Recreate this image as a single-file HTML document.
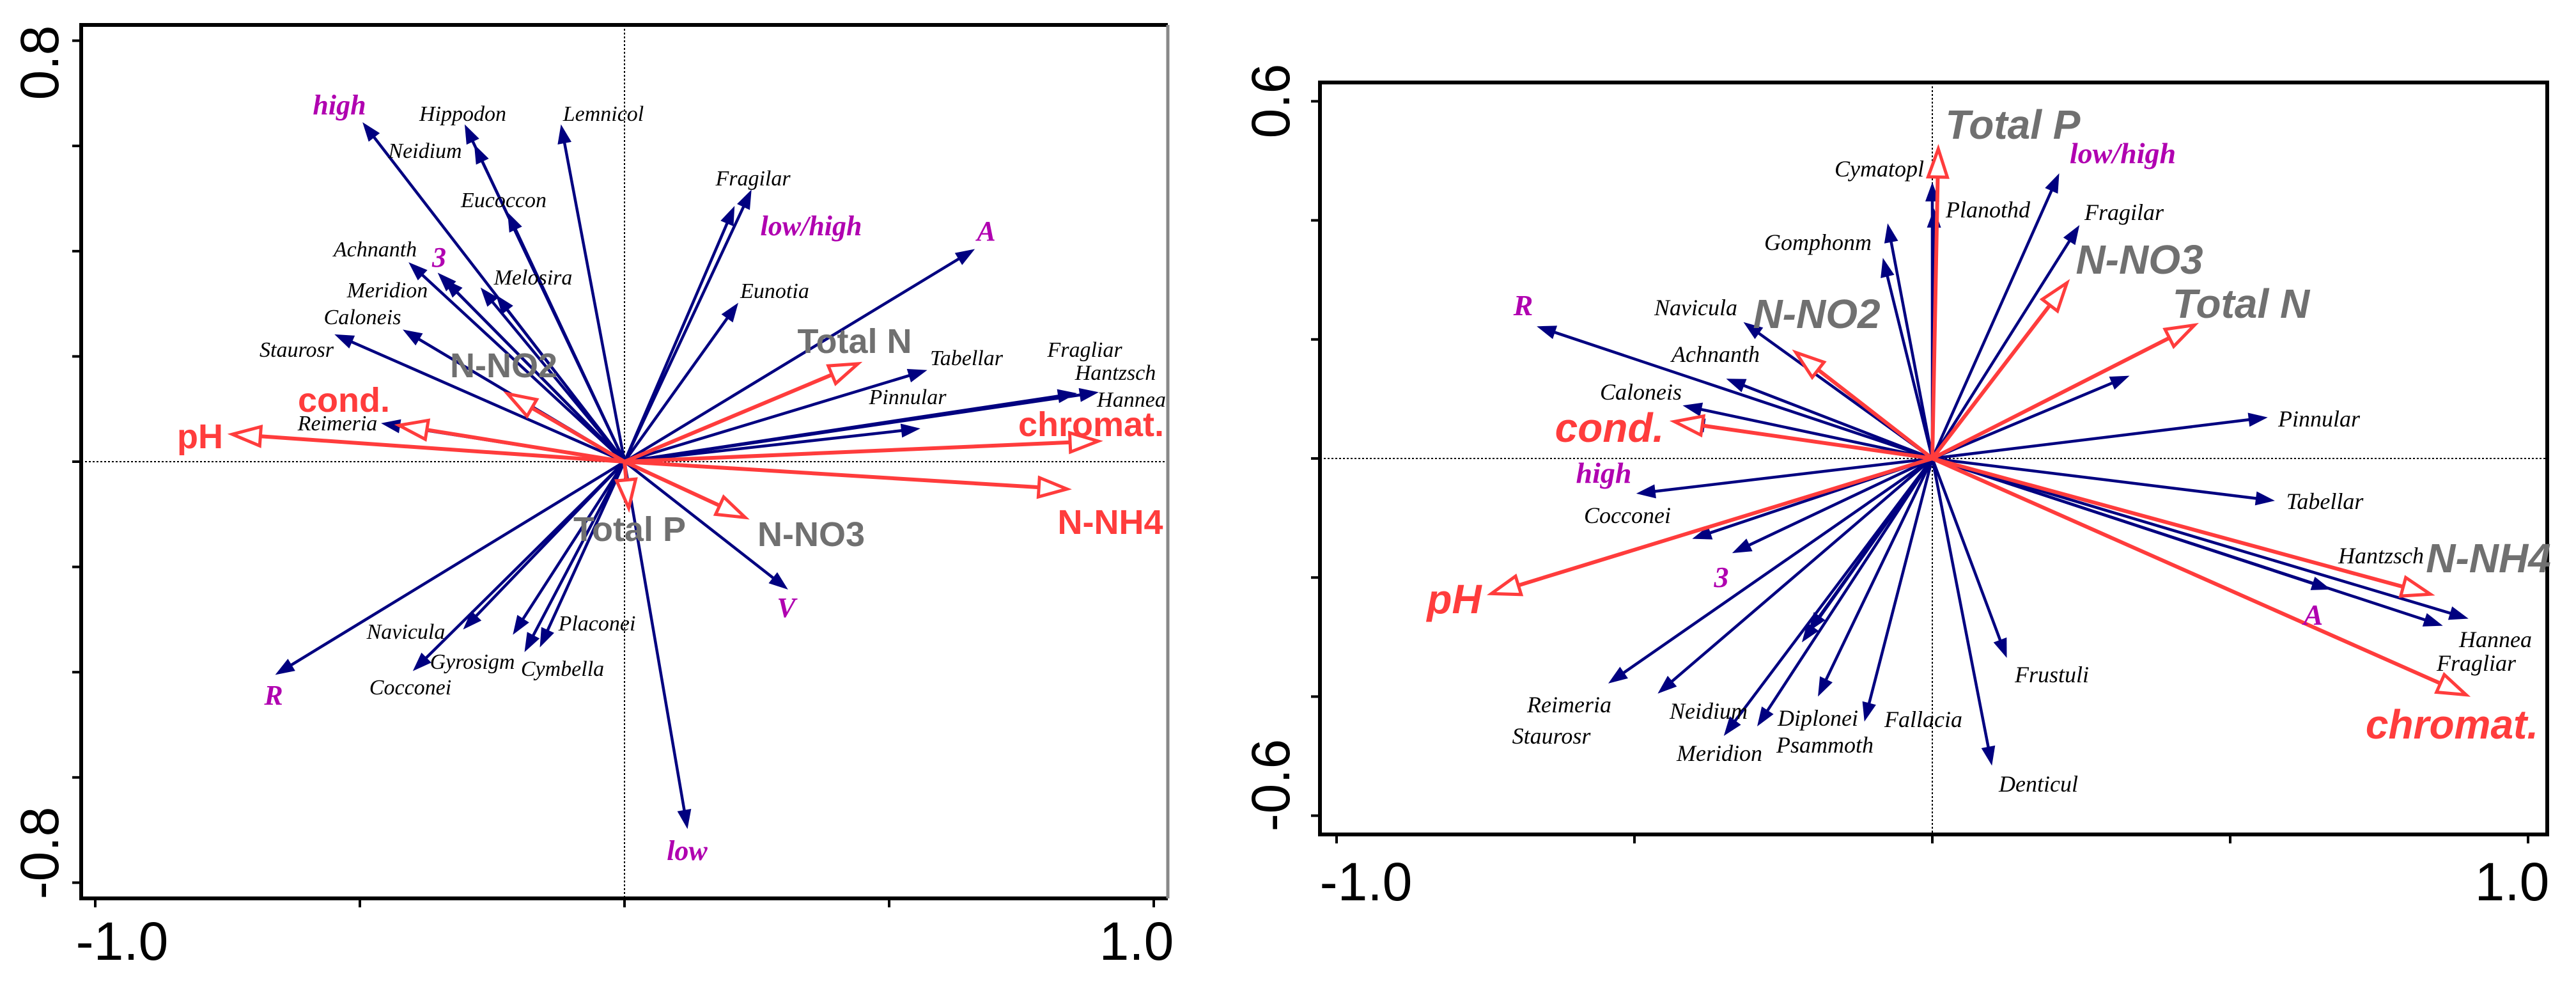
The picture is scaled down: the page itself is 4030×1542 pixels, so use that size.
<!DOCTYPE html>
<html><head><meta charset="utf-8"><style>
html,body{margin:0;padding:0;background:#fff}
svg{display:block}
.sp{font-family:"Liberation Serif",serif;font-style:italic;fill:#000}
.mg{font-family:"Liberation Serif",serif;font-style:italic;font-weight:bold;fill:#b000b0}
.gr{font-family:"Liberation Sans",sans-serif;font-weight:bold;fill:#707070}
.rd{font-family:"Liberation Sans",sans-serif;font-weight:bold;fill:#ff3c3c}
.tk{font-family:"Liberation Sans",sans-serif;fill:#000;font-size:84px}
</style></head><body>
<svg id="chart" width="4030" height="1542" viewBox="0 0 4030 1542" xmlns="http://www.w3.org/2000/svg" text-anchor="middle">
<rect width="4030" height="1542" fill="#fff"/>
<g id="left-panel">
  <line x1="977" y1="39" x2="977" y2="1405" stroke="#000" stroke-width="2" stroke-dasharray="3,3"/>
  <line x1="127" y1="722" x2="1827" y2="722" stroke="#000" stroke-width="2" stroke-dasharray="3,3"/>
  <g id="left-arrows"></g>
  <path d="M1827,39 H127 V1405 H1827" fill="none" stroke="#000" stroke-width="6"/>
  <line x1="1827" y1="39" x2="1827" y2="1405" stroke="#888" stroke-width="5"/>
  <g id="left-ticks"></g>
  <text class="tk" transform="translate(61,98) rotate(-90)" dy="30">0.8</text>
  <text class="tk" transform="translate(61,1334) rotate(-90)" dy="30">-0.8</text>
  <text class="tk" x="191" y="1501">-1.0</text>
  <text class="tk" x="1778" y="1501">1.0</text>
  <g font-size="34" class="sp">
    <text x="724" y="189">Hippodon</text><text x="944" y="189">Lemnicol</text><text x="665" y="247">Neidium</text>
    <text x="788" y="324">Eucoccon</text><text x="1178" y="290">Fragilar</text><text x="587" y="401">Achnanth</text>
    <text x="834" y="445">Melosira</text><text x="606" y="465">Meridion</text><text x="1212" y="466">Eunotia</text>
    <text x="567" y="507">Caloneis</text><text x="464" y="558">Staurosr</text><text x="1512" y="571">Tabellar</text>
    <text x="1697" y="558">Fragliar</text><text x="1745" y="594">Hantzsch</text><text x="1770" y="636">Hannea</text>
    <text x="1420" y="632">Pinnular</text><text x="528" y="673">Reimeria</text><text x="635" y="999">Navicula</text>
    <text x="934" y="986">Placonei</text><text x="739" y="1046">Gyrosigm</text><text x="880" y="1057">Cymbella</text>
    <text x="642" y="1086">Cocconei</text>
  </g>
  <g font-size="44" class="mg">
    <text x="531" y="179">high</text><text x="687" y="417">3</text><text x="1269" y="368">low/high</text>
    <text x="1543" y="376">A</text><text x="1230" y="965">V</text><text x="1075" y="1345">low</text><text x="428" y="1102">R</text>
  </g>
  <g font-size="54" class="gr">
    <text x="1337" y="552">Total N</text><text x="788" y="590">N-NO2</text><text x="985" y="846">Total P</text><text x="1269" y="854">N-NO3</text>
  </g>
  <g font-size="54" class="rd">
    <text x="538" y="644">cond.</text><text x="313" y="701">pH</text><text x="1707" y="682">chromat.</text><text x="1737" y="835">N-NH4</text>
  </g>
</g>
<g id="right-panel">
  <line x1="3023" y1="129" x2="3023" y2="1305" stroke="#000" stroke-width="2" stroke-dasharray="3,3"/>
  <line x1="2065" y1="717" x2="3985" y2="717" stroke="#000" stroke-width="2" stroke-dasharray="3,3"/>
  <g id="right-arrows"></g>
  <rect x="2065" y="129" width="1920" height="1176" fill="none" stroke="#000" stroke-width="6"/>
  <g id="right-ticks"></g>
  <text class="tk" transform="translate(1987,158) rotate(-90)" dy="30">0.6</text>
  <text class="tk" transform="translate(1987,1228) rotate(-90)" dy="30">-0.6</text>
  <text class="tk" x="2137" y="1408">-1.0</text>
  <text class="tk" x="3930" y="1408">1.0</text>
  <g font-size="36" class="sp">
    <text x="2940" y="276">Cymatopl</text><text x="3110" y="340">Planothd</text><text x="3323" y="344">Fragilar</text>
    <text x="2844" y="391">Gomphonm</text><text x="2653" y="493">Navicula</text><text x="2684" y="566">Achnanth</text>
    <text x="2567" y="625">Caloneis</text><text x="3628" y="667">Pinnular</text><text x="3637" y="796">Tabellar</text>
    <text x="2546" y="818">Cocconei</text><text x="3725" y="881">Hantzsch</text><text x="3904" y="1012">Hannea</text>
    <text x="3874" y="1049">Fragliar</text><text x="3210" y="1067">Frustuli</text><text x="2455" y="1114">Reimeria</text>
    <text x="2673" y="1124">Neidium</text><text x="2844" y="1135">Diplonei</text><text x="3009" y="1137">Fallacia</text>
    <text x="2427" y="1163">Staurosr</text><text x="2855" y="1177">Psammoth</text><text x="2690" y="1190">Meridion</text>
    <text x="3189" y="1238">Denticul</text>
  </g>
  <g font-size="46" class="mg">
    <text x="3321" y="255">low/high</text><text x="2383" y="493">R</text><text x="2509" y="755">high</text>
    <text x="2693" y="918">3</text><text x="3619" y="977">A</text>
  </g>
  <g font-size="64" class="gr" font-style="italic">
    <text x="3149" y="217">Total P</text><text x="3347" y="428">N-NO3</text><text x="3506" y="497">Total N</text>
    <text x="2842" y="513">N-NO2</text><text x="3893" y="895">N-NH4</text>
  </g>
  <g font-size="64" class="rd" font-style="italic">
    <text x="2518" y="691">cond.</text><text x="2275" y="959">pH</text><text x="3836" y="1155">chromat.</text>
  </g>
</g>
</svg>
<script>
// Left panel data (axis units)
const leftBlueNames = ["high","Hippodon","Neidium","Lemnicol","Eucoccon","Achnanth","3","Meridion","Melosira","Melosira2","Caloneis","Staurosr","Reimeria","Fragilar","low/high","Eunotia","A","Tabellar","Fragliar","Hantzsch","Pinnular","V","low","R","Navicula","Cocconei","Gyrosigm","Cymbella","Placonei"];
const leftBlueX = [-0.495,-0.302,-0.284,-0.120,-0.221,-0.408,-0.353,-0.341,-0.272,-0.243,-0.419,-0.548,-0.460,0.240,0.208,0.215,0.662,0.572,0.855,0.896,0.559,0.309,0.119,-0.660,-0.305,-0.400,-0.211,-0.189,-0.160];
const leftBlueY = [0.645,0.641,0.603,0.641,0.474,0.379,0.359,0.347,0.331,0.317,0.251,0.242,0.073,0.517,0.486,0.302,0.404,0.174,0.130,0.132,0.063,-0.243,-0.698,-0.405,-0.319,-0.398,-0.329,-0.362,-0.353];
const leftRedNames = ["pH","cond.","N-NO2","Total N","chromat.","N-NH4","N-NO3","Total P"];
const leftRedX = [-0.741,-0.426,-0.221,0.441,0.895,0.836,0.228,0.008];
const leftRedY = [0.052,0.069,0.129,0.186,0.039,-0.052,-0.106,-0.088];
const leftXTicks = [-1.0,-0.5,0,0.5,1.0];
const leftYTicks = [0.8,0.6,0.4,0.2,0,-0.2,-0.4,-0.6,-0.8];
// Right panel data
const rightBlueNames = ["Cymatopl","Planothd","Gomphonm","Gomphonm2","low/high","Fragilar","R","Navicula","Achnanth","Caloneis","Caloneis2","unnamed1","Pinnular","Cocconei","Tabellar","unnamed2","3","A","Hannea","Fragliar","Reimeria","Neidium","unnamed3","unnamed4","Meridion","Psammoth","Diplonei","Fallacia","Frustuli","Denticul"];
const rightBlueX = [0,0.003,-0.075,-0.083,0.213,0.247,-0.664,-0.317,-0.346,-0.419,-0.414,0.331,0.563,-0.497,0.575,-0.403,-0.336,0.669,0.900,0.857,-0.544,-0.461,-0.219,-0.208,-0.350,-0.294,-0.192,-0.114,0.125,0.100];
const rightBlueY = [0.464,0.420,0.395,0.337,0.479,0.392,0.222,0.229,0.134,0.089,0.060,0.139,0.069,-0.059,-0.071,-0.135,-0.159,-0.220,-0.269,-0.281,-0.378,-0.395,-0.309,-0.291,-0.466,-0.450,-0.400,-0.442,-0.335,-0.516];
const rightRedNames = ["Total P","N-NO3","Total N","N-NO2","cond.","pH","N-NH4","chromat."];
const rightRedX = [0.010,0.226,0.440,-0.229,-0.433,-0.740,0.836,0.896];
const rightRedY = [0.520,0.295,0.224,0.178,0.062,-0.227,-0.228,-0.397];
const rightXTicks = [-1.0,-0.5,0,0.5,1.0];
const rightYTicks = [0.6,0.4,0.2,0,-0.2,-0.4,-0.6];

const NS="http://www.w3.org/2000/svg";
function mk(tag){return document.createElementNS(NS,tag);}
function drawPanel(gid,tid,X,Y,bx,by,bn,rx,ry,rn,xt,yt,frameL,frameB,pfx){
  const g=document.getElementById(gid), cx=X(0), cy=Y(0);
  function arrow(vx,vy,name,red){
    const tx=X(vx),ty=Y(vy),dx=tx-cx,dy=ty-cy,len=Math.hypot(dx,dy)||1,ux=dx/len,uy=dy/len;
    const L=red?44:30,W=red?15:11;
    const bxp=tx-ux*L,byp=ty-uy*L;
    const ln=mk('line');
    
    
    ln.setAttribute('x1',cx);ln.setAttribute('y1',cy);
    ln.setAttribute('x2',red?bxp:bxp+ux*4);ln.setAttribute('y2',red?byp:byp+uy*4);
    ln.setAttribute('stroke',red?'#ff3c3c':'#000080');ln.setAttribute('stroke-width',red?6:4.5);
    g.appendChild(ln);
    const p=mk('polygon');
    
    
    p.setAttribute('points',tx+','+ty+' '+(bxp-uy*W)+','+(byp+ux*W)+' '+(bxp+uy*W)+','+(byp-ux*W));
    if(red){p.setAttribute('fill','#fff');p.setAttribute('stroke','#ff3c3c');p.setAttribute('stroke-width',5);}
    else{p.setAttribute('fill','#000080');}
    g.appendChild(p);
  }
  for(let i=0;i<bx.length;i++)arrow(bx[i],by[i],bn[i],false);
  for(let i=0;i<rx.length;i++)arrow(rx[i],ry[i],rn[i],true);
  const t=document.getElementById(tid);
  xt.forEach(v=>{const l=mk('line');
    
    
    l.setAttribute('x1',X(v));l.setAttribute('x2',X(v));l.setAttribute('y1',frameB);l.setAttribute('y2',frameB+14);
    l.setAttribute('stroke','#000');l.setAttribute('stroke-width',4);t.appendChild(l);});
  yt.forEach(v=>{const l=mk('line');
    
    
    l.setAttribute('y1',Y(v));l.setAttribute('y2',Y(v));l.setAttribute('x1',frameL);l.setAttribute('x2',frameL-14);
    l.setAttribute('stroke','#000');l.setAttribute('stroke-width',4);t.appendChild(l);});
}
const LX=v=>977+v*828, LY=v=>722-v*823;
const RX=v=>3023+v*932, RY=v=>717-v*931;
drawPanel('left-arrows','left-ticks',LX,LY,leftBlueX,leftBlueY,leftBlueNames,leftRedX,leftRedY,leftRedNames,leftXTicks,leftYTicks,127,1405,'left-');
drawPanel('right-arrows','right-ticks',RX,RY,rightBlueX,rightBlueY,rightBlueNames,rightRedX,rightRedY,rightRedNames,rightXTicks,rightYTicks,2065,1305,'right-');
</script>
</body></html>
